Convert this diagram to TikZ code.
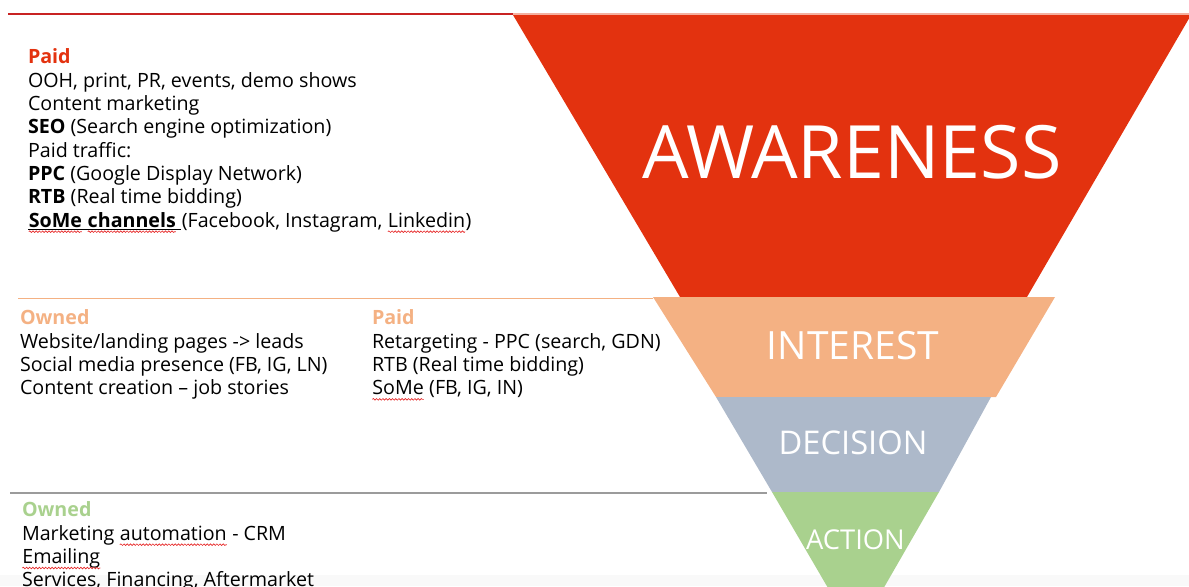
\documentclass[tikz,border=0pt]{standalone}
\usepackage{fontspec}
\setmainfont{Open Sans}
\usetikzlibrary{decorations.pathmorphing}
\definecolor{awr}{RGB}{227,50,15}
\definecolor{intc}{RGB}{244,177,131}
\definecolor{decc}{RGB}{173,185,202}
\definecolor{actc}{RGB}{169,209,142}
\definecolor{topred}{RGB}{200,35,35}
\definecolor{palered}{RGB}{244,176,160}
\definecolor{grline}{RGB}{155,155,155}
\definecolor{spellred}{RGB}{230,40,40}
\tikzset{
  blk/.style={font=\fontsize{14.75}{17.5}\selectfont, align=left, inner sep=0pt, outer sep=0pt, anchor=north west, text=black},
  lbl/.style={text=white, inner sep=0pt, outer sep=0pt, anchor=base},
  spell/.style={spellred, line width=0.5pt, decorate, decoration={snake, amplitude=0.6pt, segment length=2.4pt}}
}
\newcommand{\sqw}[1]{\tikz[baseline=(sqn.base)]{\node[inner sep=0pt,outer sep=0pt,anchor=base](sqn){#1};\draw[spell]([yshift=-3.3pt]sqn.base west)--([yshift=-3.3pt]sqn.base east);}}
\newcommand{\ulb}[1]{\tikz[baseline=(uln.base)]{\node[inner sep=0pt,outer sep=0pt,anchor=base](uln){#1};\draw[line width=0.7pt]([yshift=-1.9pt]uln.base west)--([yshift=-1.9pt]uln.base east);}}
\begin{document}
\begin{tikzpicture}[x=0.75pt,y=-0.75pt]
\useasboundingbox (0,0) rectangle (1189,586);
\clip (0,0) rectangle (1189,586);
\fill[gray!5] (0,575) rectangle (1189,586);
% funnel
\fill[awr] (513,15) -- (1191,15) -- (1027,297) -- (680,297) -- cycle;
\fill[intc] (653,297) -- (1055,297) -- (996,397) -- (716,397) -- cycle;
\fill[decc] (716,397) -- (991,397) -- (939,492) -- (772,492) -- cycle;
\fill[actc] (772,492) -- (939,492) -- (856,636) -- cycle;
% rules
\draw[topred, line width=1.6pt] (8,14) -- (513,14);
\draw[palered, line width=1.2pt] (513,14) -- (1189,14);
\draw[intc, line width=1.3pt] (18,298.5) -- (653,298.5);
\draw[grline, line width=2.2pt] (10,493) -- (767,493);
% labels
\node[lbl, font=\fontsize{55.2}{60}\selectfont] (awl) at (852,178) {AWARENESS};
\node[lbl, font=\fontsize{29.2}{32}\selectfont] (inl) at (853,359) {INTEREST};
\node[lbl, font=\fontsize{24.5}{28}\selectfont] (del) at (853,454) {DECISION};
\node[lbl, font=\fontsize{20.5}{24}\selectfont] (acl) at (855.5,549) {ACTION};
% text blocks
\node[blk] (b1) at (28,49) {\textcolor{awr}{\textbf{Paid}}\\
OOH, print, PR, events, demo shows\\
Content marketing\\
\textbf{SEO} (Search engine optimization)\\
Paid traffic:\\
\textbf{PPC} (Google Display Network)\\
\textbf{RTB} (Real time bidding)\\
\ulb{\textbf{\sqw{SoMe} \sqw{channels}\ }}(Facebook, Instagram, \sqw{Linkedin})};
\node[blk] (b2) at (20,310) {\textcolor{intc}{\textbf{Owned}}\\
Website/landing pages -> leads\\
Social media presence (FB, IG, LN)\\
Content creation – job stories};
\node[blk] (b3) at (372,310) {\textcolor{intc}{\textbf{Paid}}\\
Retargeting - PPC (search, GDN)\\
RTB (Real time bidding)\\
\sqw{SoMe} (FB, IG, IN)};
\node[blk] (b4) at (22,502) {\textcolor{actc}{\textbf{Owned}}\\
Marketing \sqw{automation} - CRM\\
\sqw{Emailing}\\
Services, Financing, Aftermarket};
\end{tikzpicture}
\end{document}
